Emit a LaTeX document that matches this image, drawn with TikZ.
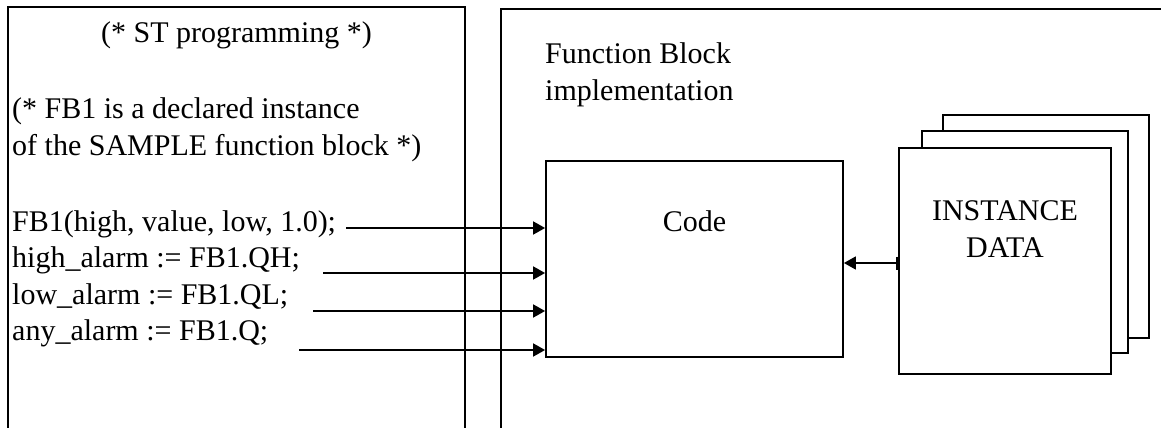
\documentclass[tikz,border=0pt]{standalone}
\usepackage{fontspec}
\setmainfont{Liberation Serif}
\usetikzlibrary{arrows.meta,positioning}

\begin{document}
\begin{tikzpicture}[x=1pt,y=-1pt,
    txt/.style={font=\fontsize{30}{37}\selectfont, inner sep=0pt},
    box/.style={rectangle, draw=black, fill=white, line width=1.8pt, inner sep=0pt},
    panel/.style={line width=2.2pt},
    arrow/.style={line width=1.7pt,-{Triangle[length=12pt,width=13pt]}}
]
    \fill[white] (0,0) rectangle (1161,428);
    \useasboundingbox (0,0) rectangle (1161,428);

    % the two panels, open at the bottom
    \draw[panel] (8,428) -- (8,7) -- (465,7) -- (465,428);
    \draw[panel] (501,428) -- (501,9) -- (1161,9);

    % ST program
    \node[txt, anchor=base] (title) at (236.5,43) {(* ST programming *)};
    \node[txt, anchor=north west, align=left] (remark) at (12,97.2) {(* FB1 is a declared instance\\of the SAMPLE function block *)};
    \node[txt, anchor=base west] (call) at (12,231) {FB1(high, value, low, 1.0);};
    \node[txt, anchor=base west] (qh) at (12,267) {high\_alarm := FB1.QH;};
    \node[txt, anchor=base west] (ql) at (12,304) {low\_alarm := FB1.QL;};
    \node[txt, anchor=base west] (q) at (12,340) {any\_alarm := FB1.Q;};

    % function block
    \node[txt, anchor=north west, align=left] (impl) at (545,42.2) {Function Block\\implementation};
    \node[box, minimum width=297pt, minimum height=196pt] (code) at (694.5,259) {};
    \node[txt, anchor=base] (codetxt) at ([yshift=-71pt]code.north) {Code};

    \node[box, minimum width=206pt, minimum height=223pt] (back) at (1046,226.5) {};
    \node[box, minimum width=206pt, minimum height=222pt] (mid) at (1025,242) {};
    \node[box, minimum width=212pt, minimum height=226pt] (front) at (1005,261) {};
    \node[txt, anchor=north, align=center] (data) at (1005,200.4) {INSTANCE\\DATA};

    \foreach \n/\x/\y in {call/346/228, qh/323/273, ql/313/311, q/299/350} {
        \coordinate (\n-out) at (\x,\y);
        \draw[arrow] (\n-out) -- (\n-out -| code.west);
    }
    \draw[line width=1.7pt, {Bar[width=13pt,line width=2.5pt]}-{Triangle[length=12pt,width=13pt]}] ([yshift=-2pt]front.west) -- ([yshift=-2pt]front.west -| code.east);
\end{tikzpicture}
\end{document}
